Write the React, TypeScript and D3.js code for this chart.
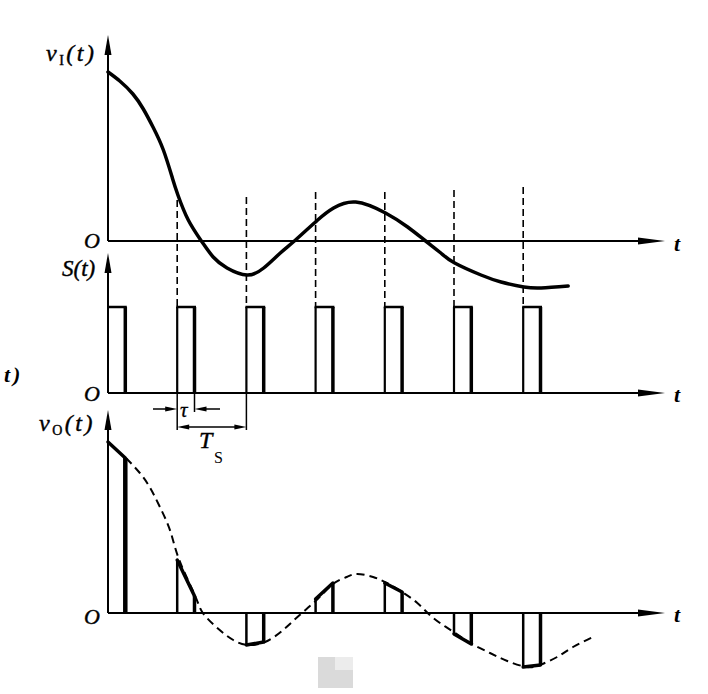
import React from 'react';
import { scaleLinear, line, curveNatural } from 'd3';

// input signal v_I(t): time in units of Ts, value in drawing units
const vIT = [0, 0.17, 0.36, 0.51, 0.65, 0.8, 0.93, 1.01, 1.16, 1.36, 1.52, 1.72, 2.01, 2.25, 2.49, 2.71, 3.03, 3.26, 3.58, 4.01, 4.33, 4.59, 4.81, 5.01, 5.39, 5.68, 6.01, 6.26, 6.65];
const vIV = [169, 160, 147, 132, 114, 91, 63, 46, 21, -1, -16, -27, -34, -27, -12, 1, 21, 33, 39, 28, 14, 0, -12, -22, -34, -41, -46, -47, -45];

// envelope of the output (dashed)
const vOT = [0.26, 0.46, 0.61, 0.75, 0.9, 1.03, 1.26, 1.37, 1.58, 1.81, 2.02, 2.27, 2.53, 2.77, 3.03, 3.25, 3.45, 3.6, 3.83, 4.03, 4.25, 4.47, 4.65, 4.84, 5.04, 5.26, 5.52, 5.77, 6.05, 6.24, 6.49, 6.72, 7.01];
const vOV = [155, 140, 125, 106, 82, 53, 17, 0, -15, -27, -32, -29, -17, -2, 14, 29, 36, 39, 36, 30, 21, 10, -2, -12, -21, -31, -40, -48, -54, -52, -44, -34, -24];

// sampling pulses
const sampleK = [0, 1, 2, 3, 4, 5, 6];
const tau = 0.25;
const pulseHeight = 1;
const sampleTopStart = [171, 53, -32, 14, 30, -21, -54];
const sampleTopEnd = [155, 17, -29, 30, 21, -31, -52];
const dashTop = [41, 44, 49, 49, 51, 54]; // k = 1..6

const W = 708;
const H = 694;
const font = 'Liberation Serif, DejaVu Serif, serif';

const x = scaleLinear([0, 1], [108, 108 + 69.2]);
const yI = scaleLinear([-60, 180], [301, 61]);
const yS = scaleLinear([0, 1], [393, 307]);
const yO = scaleLinear([-60, 180], [673, 433]);

const axisEnd = 665;

const HArrow = ({ y }: { y: number }) => (
  <g>
    <line x1={108} y1={y} x2={axisEnd - 10} y2={y} stroke="#000" strokeWidth={2} />
    <path d={`M${axisEnd},${y} L${axisEnd - 27},${y - 3.5} L${axisEnd - 27},${y + 3.5} Z`} fill="#000" />
  </g>
);

const VArrow = ({ top, bottom }: { top: number; bottom: number }) => (
  <g>
    <line x1={108} y1={top + 8} x2={108} y2={bottom} stroke="#000" strokeWidth={2} />
    <path d={`M108,${top} L${108 - 3.5},${top + 20} L${108 + 3.5},${top + 20} Z`} fill="#000" />
  </g>
);

const TLabel = ({ y }: { y: number }) => (
  <text x={674} y={y} fontFamily={font} fontStyle="italic" fontWeight="bold" fontSize={22}>t</text>
);

const OLabel = ({ y }: { y: number }) => (
  <text x={84} y={y} fontFamily={font} fontStyle="italic" fontSize={22} stroke="#000" strokeWidth={0.4}>O</text>
);

export default function App() {
  const inLine = line<number>().x((d, i) => x(vIT[i])).y(d => yI(d)).curve(curveNatural);
  const outLine = line<number>().x((d, i) => x(vOT[i])).y(d => yO(d)).curve(curveNatural);

  return (
    <svg width={W} height={H} style={{ position: 'absolute', left: 0, top: 0, background: '#fff' }}>
      {/* scan artefact */}
      <rect x={318} y={657} width={17} height={31} fill="#dadada" />
      <rect x={335} y={657} width={18} height={13} fill="#ececec" />
      <rect x={335} y={670} width={18} height={18} fill="#dadada" />

      {/* axes */}
      <VArrow top={35} bottom={241} />
      <HArrow y={yI(0)} />
      <VArrow top={253} bottom={393} />
      <HArrow y={yS(0)} />
      <VArrow top={410} bottom={613} />
      <HArrow y={yO(0)} />

      {/* dashed sample markers */}
      {sampleK.slice(1).map((k, i) => (
        <line key={k} x1={x(k)} x2={x(k)} y1={yI(dashTop[i])} y2={yS(pulseHeight)}
          stroke="#000" strokeWidth={1.6} strokeDasharray="7,4" />
      ))}

      {/* v_I curve */}
      <path d={inLine(vIV) || ''} fill="none" stroke="#000" strokeWidth={3.5} strokeLinecap="round" />

      {/* S(t) pulses */}
      {sampleK.map(k => (
        <g key={k} stroke="#000" fill="none">
          {k > 0 && <line x1={x(k)} x2={x(k)} y1={yS(0)} y2={yS(pulseHeight)} strokeWidth={2.2} />}
          <line x1={x(k) - 1} x2={x(k + tau) + 1.5} y1={yS(pulseHeight)} y2={yS(pulseHeight)} strokeWidth={2.5} />
          <line x1={x(k + tau)} x2={x(k + tau)} y1={yS(0)} y2={yS(pulseHeight)} strokeWidth={3.5} />
        </g>
      ))}

      {/* tau and Ts dimensions */}
      <g stroke="#000" strokeWidth={1.5}>
        <line x1={x(1)} x2={x(1)} y1={yS(0)} y2={430} />
        <line x1={x(1 + tau)} x2={x(1 + tau)} y1={yS(0)} y2={412} />
        <line x1={x(2)} x2={x(2)} y1={yS(0)} y2={430} />
        <line x1={153} x2={x(1) - 6} y1={409} y2={409} />
        <line x1={x(1 + tau) + 6} x2={220} y1={409} y2={409} />
        <line x1={x(1) + 6} x2={x(2) - 6} y1={427} y2={427} />
      </g>
      <g fill="#000">
        <path d={`M${x(1)},409 l-12,-2.5 l0,5 Z`} />
        <path d={`M${x(1 + tau)},409 l12,-2.5 l0,5 Z`} />
        <path d={`M${x(1)},427 l12,-2.5 l0,5 Z`} />
        <path d={`M${x(2)},427 l-12,-2.5 l0,5 Z`} />
      </g>
      <text x={180} y={417} fontFamily={font} fontStyle="italic" fontSize={21} stroke="#000" strokeWidth={0.3}>τ</text>
      <text x={199} y={448} fontFamily={font} fontStyle="italic" fontSize={24} stroke="#000" strokeWidth={0.4}>T</text>
      <text x={214} y={463} fontFamily={font} fontSize={16}>S</text>

      {/* v_O envelope */}
      <path d={outLine(vOV) || ''} fill="none" stroke="#000" strokeWidth={2} strokeDasharray="8,5" />

      {/* output samples */}
      {sampleK.map((k, i) => (
        <g key={k} stroke="#000" fill="none">
          {k > 0 && <line x1={x(k)} x2={x(k)} y1={yO(0)} y2={yO(sampleTopStart[i])} strokeWidth={2.5} />}
          <line x1={x(k)} x2={x(k + tau)} y1={yO(sampleTopStart[i])} y2={yO(sampleTopEnd[i])} strokeWidth={3.5} strokeLinecap="round" />
          <line x1={x(k + tau)} x2={x(k + tau)} y1={yO(0)} y2={yO(sampleTopEnd[i])} strokeWidth={k === 0 ? 4.5 : 3.5} />
        </g>
      ))}

      {/* labels */}
      <text x={46} y={61} fontFamily={font} fontStyle="italic" fontSize={24} letterSpacing={2.5} stroke="#000" strokeWidth={0.4}>
        v<tspan fontStyle="normal" fontSize={14} dy={4}>I</tspan><tspan dy={-4}>(t)</tspan>
      </text>
      <OLabel y={248} />
      <text x={62} y={276} fontFamily={font} fontStyle="italic" fontSize={23} stroke="#000" strokeWidth={0.4}>S(t)</text>
      <OLabel y={401} />
      <text x={39} y={431} fontFamily={font} fontStyle="italic" fontSize={24} letterSpacing={2.5} stroke="#000" strokeWidth={0.4}>
        v<tspan fontStyle="normal" fontSize={14} dy={4}>O</tspan><tspan dy={-4}>(t)</tspan>
      </text>
      <OLabel y={624} />
      <TLabel y={251} />
      <TLabel y={402} />
      <TLabel y={622} />
      <text x={4} y={382} fontFamily={font} fontStyle="italic" fontWeight="bold" fontSize={22} letterSpacing={3}>t)</text>
    </svg>
  );
}
